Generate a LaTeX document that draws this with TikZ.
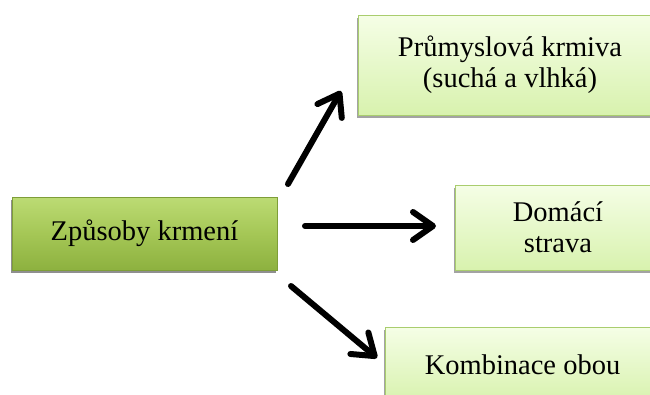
\documentclass[tikz,border=0pt]{standalone}
\usepackage{fontspec}
\setmainfont{Liberation Serif}
\usetikzlibrary{arrows.meta,shadows}
\definecolor{mainTop}{HTML}{BCDB74}
\definecolor{mainMid}{HTML}{A5C756}
\definecolor{mainBot}{HTML}{8DB13F}
\definecolor{mainLine}{HTML}{7E9E38}
\definecolor{lightTop}{HTML}{F5FEE6}
\definecolor{lightBot}{HTML}{D8F2AE}
\definecolor{lightLine}{HTML}{A9CD6E}
\tikzset{
  mainbox/.style={rectangle, draw=mainLine, line width=0.8pt, top color=mainTop, bottom color=mainBot, middle color=mainMid,
    inner sep=0pt, align=center, font=\fontsize{28.5}{31}\selectfont,
    drop shadow={shadow xshift=-1.5pt, shadow yshift=-2.5pt, fill=black!55, opacity=0.8}},
  leafbox/.style={rectangle, draw=lightLine, line width=1pt, top color=lightTop, bottom color=lightBot,
    inner sep=0pt, align=center, font=\fontsize{28.5}{31}\selectfont,
    drop shadow={shadow xshift=-1.5pt, shadow yshift=-2.5pt, fill=black!45, opacity=0.8}},
  bigarrow/.style={line width=6pt, black, line cap=round, line join=round,
    -{Straight Barb[length=20pt, width=28pt, line join=round, line cap=round]}}
}
\begin{document}
\begin{tikzpicture}[x=1pt,y=-1pt]
\useasboundingbox (0,0) rectangle (650,394);
\clip (0,0) rectangle (650,394);
\fill[white] (0,0) rectangle (650,394);
\node[mainbox, minimum width=265pt, minimum height=73pt] (main) at (144.5,233.5) {Způsoby krmení};
\node[leafbox, minimum width=304pt, minimum height=100pt] (prum) at (510,65) {Průmyslová krmiva\\(suchá a vlhká)};
\node[leafbox, minimum width=206pt, minimum height=85pt] (dom) at (558,227.5) {Domácí\\strava};
\node[leafbox, minimum width=275pt, minimum height=75pt] (komb) at (522.5,364.5) {Kombinace obou};
\coordinate (t1) at (288,184);
\coordinate (t2) at (341,91);
\coordinate (m1) at (305,226);
\coordinate (m2) at (436,226);
\coordinate (b1) at (291,286);
\coordinate (b2) at (377,358);
\draw[bigarrow] (t1) -- (t2);
\draw[bigarrow] (m1) -- (m2);
\draw[bigarrow] (b1) -- (b2);
\end{tikzpicture}
\end{document}
